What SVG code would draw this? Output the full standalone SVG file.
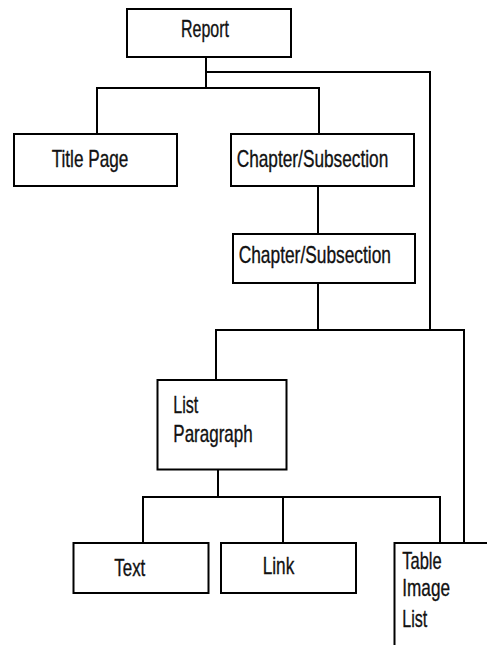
<svg xmlns="http://www.w3.org/2000/svg" width="487" height="645" viewBox="0 0 487 645">
<style>
.box{fill:#fff;stroke:#000;stroke-width:2}
.lbl{font-family:"Liberation Sans Narrow","Liberation Sans",sans-serif;font-size:24px;fill:#111;stroke:#111;stroke-width:0.35}
.con{fill:none;stroke:#000;stroke-width:2}
</style>
<rect width="487" height="645" fill="#fff"/>
<g id="connectors">
<path class="con" d="M206 57 V88"/>
<path class="con" d="M206 72 H430 V331"/>
<path class="con" d="M97 134 V88 H319 V134"/>
<path class="con" d="M318 186 V234"/>
<path class="con" d="M318 283 V330"/>
<path class="con" d="M216 380 V330 H464 V543"/>
<path class="con" d="M218 469 V497"/>
<path class="con" d="M143 543 V497 H440 V543"/>
<path class="con" d="M283 497 V544"/>
</g>
<g id="report">
<rect class="box" x="127" y="9" width="164" height="48"/>
<text class="lbl" x="181" y="37.3" font-size="21" textLength="48" lengthAdjust="spacingAndGlyphs">Report</text>
</g>
<g id="title-page">
<rect class="box" x="14" y="134" width="163" height="52"/>
<text class="lbl" x="51.7" y="166.7" textLength="76.6" lengthAdjust="spacingAndGlyphs">Title Page</text>
</g>
<g id="chapter1">
<rect class="box" x="231" y="134" width="183" height="52"/>
<text class="lbl" x="236.7" y="166.5" font-size="23.5" textLength="151.6" lengthAdjust="spacingAndGlyphs">Chapter/Subsection</text>
</g>
<g id="chapter2">
<rect class="box" x="233" y="234" width="182" height="49"/>
<text class="lbl" x="238.7" y="262.7" font-size="23.5" textLength="152.3" lengthAdjust="spacingAndGlyphs">Chapter/Subsection</text>
</g>
<g id="list-paragraph">
<rect class="box" x="157.5" y="380" width="129" height="89.5"/>
<text class="lbl" x="173.3" y="413.3" font-size="22.5" textLength="25" lengthAdjust="spacingAndGlyphs">List</text>
<text class="lbl" x="173.3" y="441.7" font-size="22.5" textLength="79.4" lengthAdjust="spacingAndGlyphs">Paragraph</text>
</g>
<g id="text">
<rect class="box" x="73.5" y="543" width="135" height="50"/>
<text class="lbl" x="114.3" y="576" textLength="31" lengthAdjust="spacingAndGlyphs">Text</text>
</g>
<g id="link">
<rect class="box" x="221" y="543" width="135" height="50"/>
<text class="lbl" x="262.7" y="574" textLength="31.6" lengthAdjust="spacingAndGlyphs">Link</text>
</g>
<g id="table-image-list">
<rect class="box" x="394.5" y="543" width="120" height="120"/>
<text class="lbl" x="402.3" y="569.3" font-size="20.5" textLength="39.4" lengthAdjust="spacingAndGlyphs">Table</text>
<text class="lbl" x="402.3" y="596" font-size="20.5" textLength="47.7" lengthAdjust="spacingAndGlyphs">Image</text>
<text class="lbl" x="402.3" y="626.7" font-size="20.5" textLength="25" lengthAdjust="spacingAndGlyphs">List</text>
</g>
</svg>
